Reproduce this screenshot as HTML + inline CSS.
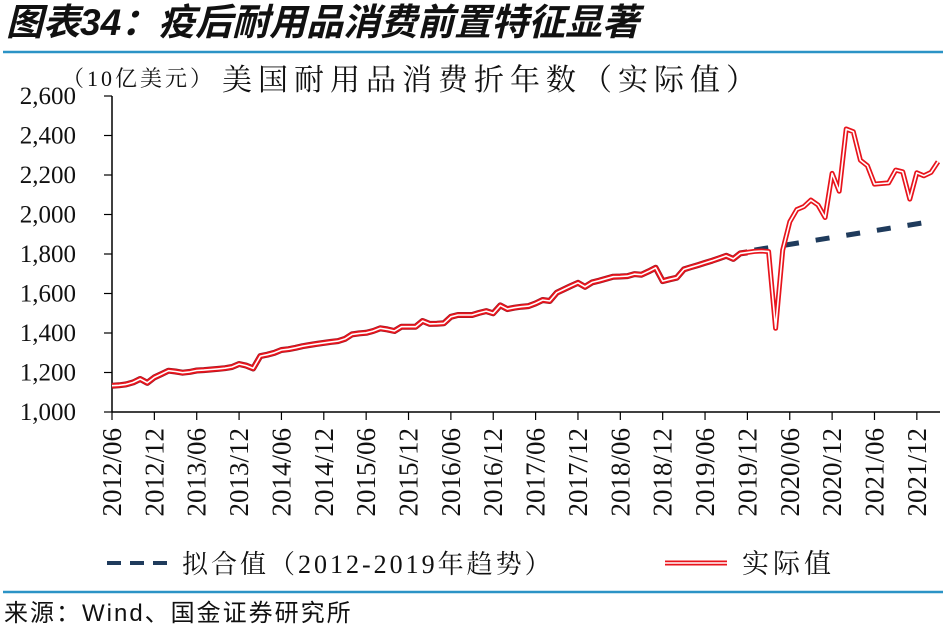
<!DOCTYPE html>
<html><head><meta charset="utf-8"><style>
body{margin:0;background:#fff;}
svg{display:block;}
</style></head><body>
<svg width="943" height="641" viewBox="0 0 943 641" xmlns="http://www.w3.org/2000/svg">
<text x="6" y="35" font-family="'Liberation Sans','Noto Sans CJK SC',sans-serif" font-size="37" font-weight="bold" font-style="italic" fill="#111">图表34：疫后耐用品消费前置特征显著</text>
<line x1="3" y1="52" x2="943" y2="52" stroke="#2b93c6" stroke-width="2.5"/>
<text x="62" y="86" font-family="'Liberation Serif','Noto Serif CJK SC',serif" font-size="22" letter-spacing="3" fill="#111">（10亿美元）</text>
<text x="222" y="90" font-family="'Liberation Serif','Noto Serif CJK SC',serif" font-size="30" letter-spacing="6" fill="#111">美国耐用品消费折年数（实际值）</text>
<g id="axes"></g>
<g id="marks"></g>
<g>
<line x1="107" y1="563" x2="170" y2="563" stroke="#1f3b5c" stroke-width="4" stroke-dasharray="14,9"/>
<text x="182" y="573" font-family="'Liberation Serif','Noto Serif CJK SC',serif" font-size="26" letter-spacing="3" fill="#111">拟合值（2012-2019年趋势）</text>
<line x1="665" y1="563" x2="727" y2="563" stroke="#e8141c" stroke-width="5"/>
<line x1="665" y1="563" x2="727" y2="563" stroke="#fff" stroke-width="1.6"/>
<text x="742" y="573" font-family="'Liberation Serif','Noto Serif CJK SC',serif" font-size="27" letter-spacing="4" fill="#111">实际值</text>
</g>
<line x1="3" y1="592" x2="943" y2="592" stroke="#2b93c6" stroke-width="2.5"/>
<text x="4" y="621" font-family="'Liberation Sans','Noto Sans CJK SC',sans-serif" font-size="24" letter-spacing="2" fill="#111">来源：Wind、国金证券研究所</text>
</svg>
<script>
const yTicks=[1000,1200,1400,1600,1800,2000,2200,2400,2600];
const yTickLabels=["1,000","1,200","1,400","1,600","1,800","2,000","2,200","2,400","2,600"];
const xTickLabels=["2012/06","2012/12","2013/06","2013/12","2014/06","2014/12","2015/06","2015/12","2016/06","2016/12","2017/06","2017/12","2018/06","2018/12","2019/06","2019/12","2020/06","2020/12","2021/06","2021/12"];
const actualValues=[1133,1135,1140,1150,1167,1148,1175,1192,1209,1205,1199,1203,1210,1212,1215,1218,1222,1228,1243,1235,1221,1283,1290,1300,1314,1318,1325,1333,1339,1345,1350,1355,1359,1370,1393,1398,1401,1410,1424,1418,1410,1432,1432,1432,1461,1446,1447,1449,1482,1491,1491,1491,1502,1511,1500,1540,1521,1528,1533,1536,1550,1567,1562,1604,1621,1638,1654,1634,1656,1665,1675,1685,1686,1688,1698,1695,1712,1730,1663,1672,1680,1722,1733,1744,1755,1766,1778,1791,1775,1803,1808,1813,1815,1812,1424,1820,1963,2025,2040,2073,2048,1985,2208,2118,2433,2419,2275,2247,2154,2157,2160,2225,2216,2078,2211,2196,2213,2267];
const fitIndex=[91,117];
const fitValues=[1820,1970];
const inSampleEnd=90;

const NS="http://www.w3.org/2000/svg";
const X0=112,DX=7.06,Y0=412,YTOP=96;
function xs(i){return X0+i*DX;}
function ys(v){return Y0-(v-1000)/1600*(Y0-YTOP);}
function mk(tag,attrs,parent){const e=document.createElementNS(NS,tag);for(const k in attrs)e.setAttribute(k,attrs[k]);parent.appendChild(e);return e;}
const axes=document.getElementById('axes'),marks=document.getElementById('marks');
const serif="'Liberation Serif',serif";
let yax=mk('line',{x1:X0,y1:YTOP,x2:X0,y2:Y0,stroke:'#000','stroke-width':1.5},axes);


let xax=mk('line',{x1:X0,y1:Y0,x2:940,y2:Y0,stroke:'#000','stroke-width':1.5},axes);


yTicks.forEach((v,k)=>{
  mk('line',{x1:X0-8,y1:ys(v),x2:X0,y2:ys(v),stroke:'#000','stroke-width':1.2},axes);
  const t=mk('text',{x:76,y:ys(v)+8,'text-anchor':'end','font-family':serif,'font-size':25,fill:'#111'},axes);
  t.textContent=yTickLabels[k];
  
  
});
xTickLabels.forEach((s,k)=>{
  const x=xs(k*6);
  mk('line',{x1:x,y1:Y0,x2:x,y2:Y0+8,stroke:'#000','stroke-width':1.2},axes);
  const t=mk('text',{x:0,y:0,'text-anchor':'end','font-family':serif,'font-size':27,fill:'#111',transform:`translate(${x+9},428) rotate(-90)`},axes);
  t.textContent=s;
  
  
});
let p1=actualValues.slice(0,inSampleEnd+1).map((v,i)=>`${i?'L':'M'}${xs(i).toFixed(1)},${ys(v).toFixed(1)}`).join('');
let fitIn=mk('path',{d:p1,fill:'none',stroke:'#8a1a28','stroke-width':6,'stroke-linejoin':'round'},marks);


let fd=`M${xs(fitIndex[0])},${ys(fitValues[0])}L${xs(fitIndex[1])},${ys(fitValues[1])}`;
let fit=mk('path',{d:fd,fill:'none',stroke:'#1f3b5c','stroke-width':5,'stroke-dasharray':'14,17'},marks);


let pa=actualValues.map((v,i)=>`${i?'L':'M'}${xs(i).toFixed(1)},${ys(v).toFixed(1)}`).join('');
let a1=mk('path',{d:pa,fill:'none',stroke:'#e8141c','stroke-width':5,'stroke-linejoin':'round'},marks);


let a2=mk('path',{d:pa,fill:'none',stroke:'#fff','stroke-width':1.6,'stroke-linejoin':'round'},marks);


</script>
</body></html>
